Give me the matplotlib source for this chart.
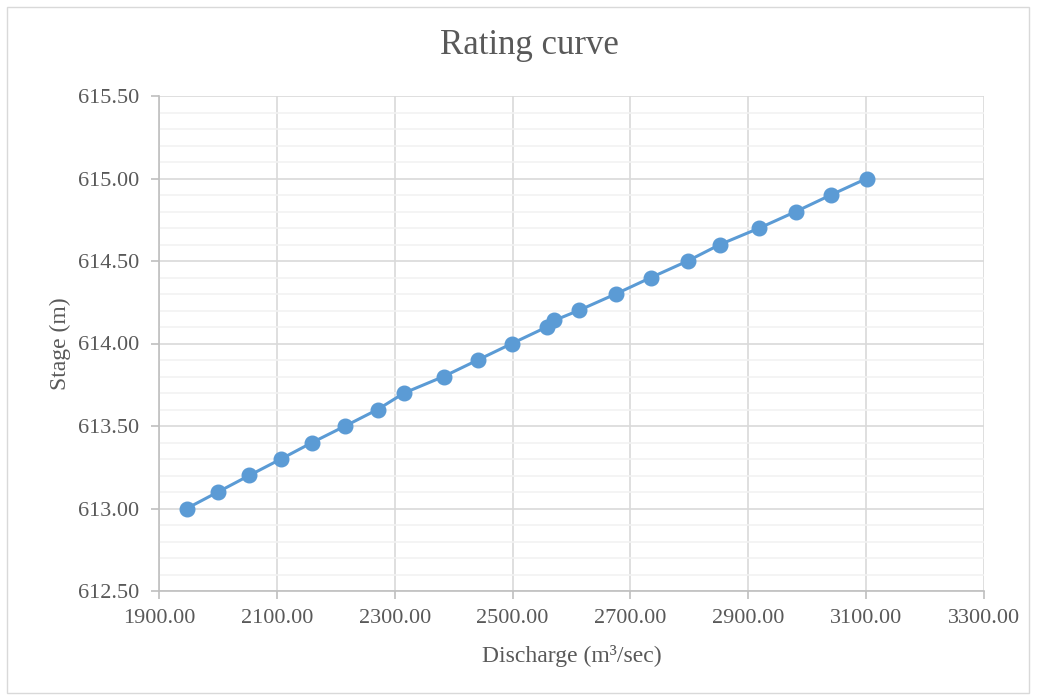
import matplotlib
matplotlib.use("Agg")
import matplotlib.pyplot as plt
from matplotlib.patches import Rectangle
from matplotlib.ticker import MultipleLocator, FormatStrFormatter

# discharge (m3/sec) and stage (m)
discharge = [1947, 2000, 2053, 2107, 2160, 2216, 2271, 2316, 2383, 2441,
             2499, 2558, 2571, 2612, 2675, 2735, 2797, 2852, 2919, 2981,
             3040, 3101]
stage = [613.0, 613.1, 613.2, 613.3, 613.4, 613.5, 613.6, 613.7, 613.8, 613.9,
         614.0, 614.1, 614.14, 614.2, 614.3, 614.4, 614.5, 614.6, 614.7, 614.8,
         614.9, 615.0]
x_ticks = [1900, 2100, 2300, 2500, 2700, 2900, 3100, 3300]

plt.rcParams['font.family'] = ['Liberation Serif', 'DejaVu Serif']
text_col = '#595959'

fig = plt.figure(figsize=(10.39, 6.95), dpi=100)
ax = fig.add_axes([159 / 1039, 1 - 591 / 695, (984 - 159) / 1039, (591 - 96) / 695])

# chart border
fig.patches.append(Rectangle((7 / 1039, 2 / 695), 1022 / 1039, 686 / 695,
                             transform=fig.transFigure, fill=False,
                             edgecolor='#D9D9D9', linewidth=1))

ax.plot(discharge, stage, color='#5B9BD5', linewidth=2.2, marker='o',
        markersize=10.5, zorder=3)

ax.set_xlim(1900, 3300)
ax.set_ylim(612.5, 615.5)
ax.set_xticks(x_ticks)
ax.yaxis.set_major_locator(MultipleLocator(0.5))
ax.yaxis.set_minor_locator(MultipleLocator(0.1))
ax.xaxis.set_major_formatter(FormatStrFormatter('%.2f'))
ax.yaxis.set_major_formatter(FormatStrFormatter('%.2f'))

ax.grid(which='major', color='#D9D9D9', linewidth=1.2)
ax.grid(which='minor', axis='y', color='#F2F2F2', linewidth=1.2)
ax.set_axisbelow(True)

for s in ['top', 'right']:
    ax.spines[s].set_visible(False)
for s in ['left', 'bottom']:
    ax.spines[s].set_color('#BFBFBF')
    ax.spines[s].set_linewidth(1.2)

ax.tick_params(which='major', length=6, width=1.2, color='#BFBFBF',
               labelsize=16, labelcolor=text_col)
ax.tick_params(axis='y', pad=8)
ax.tick_params(axis='x', pad=7)
ax.tick_params(which='minor', length=0)

fig.text(529 / 1039, 1 - 45 / 695, 'Rating curve', fontsize=25, color=text_col,
         ha='center', va='center')
ax.set_xlabel('Discharge (m³/sec)', fontsize=17, color=text_col, labelpad=12)
ax.set_ylabel('Stage (m)', fontsize=17, color=text_col, labelpad=5)

fig.savefig('out.png', dpi=100)
